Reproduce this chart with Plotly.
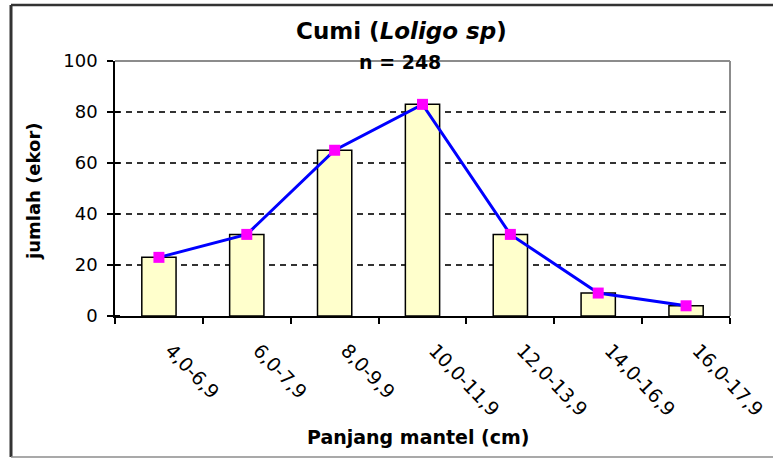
import plotly.graph_objects as go

# Frequency of squid (Loligo sp) by mantle-length class
kelas = ["4,0-6,9", "6,0-7,9", "8,0-9,9", "10,0-11,9", "12,0-13,9", "14,0-16,9", "16,0-17,9"]
jumlah = [23, 32, 65, 83, 32, 9, 4]
y_ticks = [0, 20, 40, 60, 80, 100]

W, H = 773, 458
L, R, T, B = 115, 730, 61, 316  # plot area in pixels

FONT = "DejaVu Sans"


def px(xp):
    return (xp - L) / (R - L)


def py(yp):
    return (B - yp) / (B - T)


fig = go.Figure()

fig.add_trace(go.Bar(
    x=kelas, y=jumlah,
    marker=dict(color="#FFFFCC", line=dict(color="black", width=1.5)),
    hoverinfo="skip", showlegend=False,
))
fig.add_trace(go.Scatter(
    x=kelas, y=jumlah, mode="lines+markers",
    line=dict(color="#0000FF", width=3),
    marker=dict(symbol="square", size=11, color="#FF00FF", line=dict(width=0)),
    showlegend=False,
))

fig.update_layout(
    width=W, height=H,
    margin=dict(l=L, r=W - R, t=T, b=H - B, pad=0),
    paper_bgcolor="white", plot_bgcolor="white",
    bargap=0.61,
    font=dict(family=FONT, color="black"),
    xaxis=dict(
        type="category", automargin=False,
        showline=True, linecolor="black", linewidth=1.5,
        ticks="outside", ticklen=6, tickcolor="black", tickwidth=1.5,
        tickson="boundaries",
        tickangle=46,
        tickfont=dict(family=FONT, size=19),
        ticklabelshift=12, ticklabelstandoff=14,
        showgrid=False, zeroline=False,
    ),
    yaxis=dict(
        range=[0, 100], tickvals=y_ticks, automargin=False,
        showline=True, linecolor="black", linewidth=1.5,
        ticks="outside", ticklen=6, tickcolor="black", tickwidth=1.5,
        tickfont=dict(family=FONT, size=18),
        ticklabelstandoff=6,
        showgrid=True, gridcolor="#333333", gridwidth=2, griddash="6px,5px",
        zeroline=False,
        minor=dict(tickvals=y_ticks, ticks="inside", ticklen=5,
                   tickcolor="black", tickwidth=1.5),
    ),
)

shapes = [
    # plot-area frame (top and right edges)
    dict(type="line", xref="paper", yref="paper", x0=0, x1=1, y0=1, y1=1,
         line=dict(color="#8c8c8c", width=2)),
    dict(type="line", xref="paper", yref="paper", x0=1, x1=1, y0=0, y1=1,
         line=dict(color="#8c8c8c", width=2)),
    # chart border
    dict(type="line", xref="paper", yref="paper", x0=px(11), x1=px(800), y0=py(5), y1=py(5),
         line=dict(color="#333333", width=2.5)),
    dict(type="line", xref="paper", yref="paper", x0=px(11), x1=px(11), y0=py(5), y1=py(457),
         line=dict(color="#333333", width=3)),
    dict(type="line", xref="paper", yref="paper", x0=px(11), x1=px(800), y0=py(457), y1=py(457),
         line=dict(color="#8c8c8c", width=1.5)),
]
fig.update_layout(shapes=shapes)

annotations = [
    dict(text="Cumi (<i>Loligo sp</i>)", x=px(401), y=py(31), xref="paper", yref="paper",
         showarrow=False, font=dict(family=FONT, size=23, weight="bold"),
         xanchor="center", yanchor="middle"),
    dict(text="n = 248", x=px(400), y=py(62), xref="paper", yref="paper",
         showarrow=False, font=dict(family=FONT, size=19, weight="bold"),
         xanchor="center", yanchor="middle"),
    dict(text="jumlah (ekor)", x=px(33), y=py(191), xref="paper", yref="paper",
         showarrow=False, textangle=-90, font=dict(family=FONT, size=18, weight="bold"),
         xanchor="center", yanchor="middle"),
    dict(text="Panjang mantel (cm)", x=px(418), y=py(437), xref="paper", yref="paper",
         showarrow=False, font=dict(family=FONT, size=19, weight="bold"),
         xanchor="center", yanchor="middle"),
]
fig.update_layout(annotations=annotations)

fig.write_html("out.html")
